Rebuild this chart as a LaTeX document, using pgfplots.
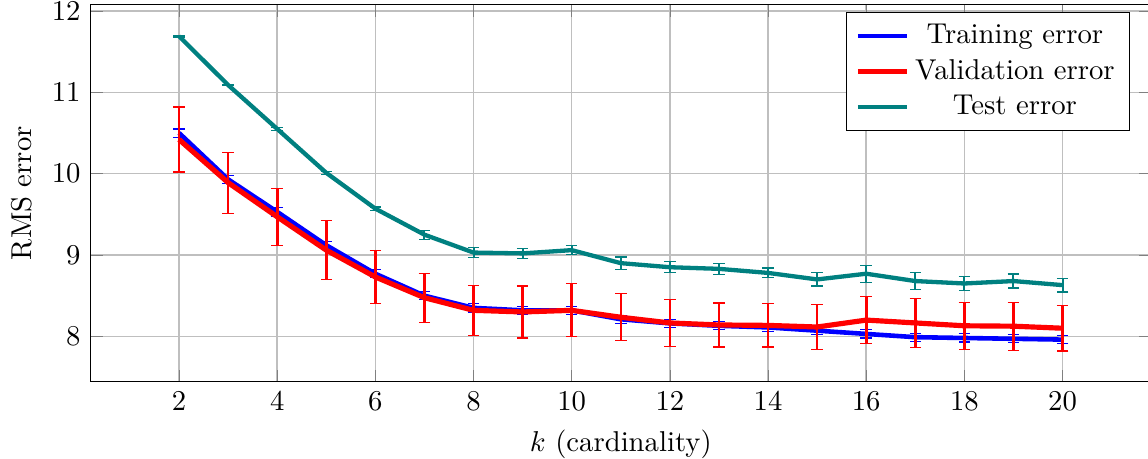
\documentclass[border=0pt]{standalone}
\usepackage{pgfplots}
\pgfplotsset{compat=1.18}
\usepackage{pgfplotstable}
\definecolor{tealc}{RGB}{0,128,128}
\pgfplotstableread{
x y e
2 10.50 0.05
3 9.93 0.05
4 9.53 0.05
5 9.12 0.05
6 8.77 0.05
7 8.50 0.05
8 8.35 0.05
9 8.32 0.05
10 8.32 0.05
11 8.21 0.05
12 8.16 0.05
13 8.13 0.05
14 8.11 0.05
15 8.07 0.05
16 8.03 0.05
17 7.99 0.05
18 7.98 0.05
19 7.97 0.05
20 7.96 0.05
}\train
\pgfplotstableread{
x y e
2 10.42 0.40
3 9.89 0.375
4 9.47 0.35
5 9.06 0.36
6 8.73 0.33
7 8.475 0.30
8 8.32 0.31
9 8.30 0.32
10 8.32 0.325
11 8.235 0.29
12 8.165 0.285
13 8.14 0.27
14 8.135 0.265
15 8.115 0.275
16 8.20 0.29
17 8.165 0.30
18 8.13 0.29
19 8.125 0.295
20 8.10 0.28
}\valid
\pgfplotstableread{
x y e
2 11.69 0.01
3 11.09 0.01
4 10.55 0.015
5 10.01 0.015
6 9.57 0.02
7 9.25 0.055
8 9.03 0.06
9 9.02 0.06
10 9.06 0.057
11 8.90 0.075
12 8.85 0.07
13 8.83 0.07
14 8.78 0.06
15 8.70 0.08
16 8.77 0.105
17 8.68 0.10
18 8.65 0.086
19 8.68 0.086
20 8.63 0.084
}\test
\begin{document}
\begin{tikzpicture}
\begin{axis}[
  scale only axis,
  width=369.4pt, height=131.5pt,
  xmin=0.2, xmax=21.8,
  ymin=7.44, ymax=12.08,
  xtick={2,4,...,20},
  ytick={8,9,10,11,12},
  grid=major,
  major grid style={gray!50, line width=0.5pt},
  xlabel={$k$ (cardinality)},
  ylabel={RMS error},
  legend cell align=center,
  legend style={at={(0.98,0.98)}, anchor=north east},
  no markers,
]
\addplot+[blue, line width=1.6pt, error bars/.cd, y dir=both, y explicit, error bar style={line width=0.7pt, blue}]
  table[x=x, y=y, y error=e] {\train};
\addlegendentry{Training error}
\addplot+[red, line width=1.8pt, error bars/.cd, y dir=both, y explicit, error bar style={line width=0.9pt, red}]
  table[x=x, y=y, y error=e] {\valid};
\addlegendentry{Validation error}
\addplot+[tealc, line width=1.5pt, error bars/.cd, y dir=both, y explicit, error bar style={line width=0.7pt, tealc}]
  table[x=x, y=y, y error=e] {\test};
\addlegendentry{Test error}
\end{axis}
\pgfresetboundingbox
\path ([xshift=-31.6pt,yshift=-26.8pt]current axis.south west) rectangle ([xshift=-1pt,yshift=1.57pt]current axis.north east);
\end{tikzpicture}
\end{document}
